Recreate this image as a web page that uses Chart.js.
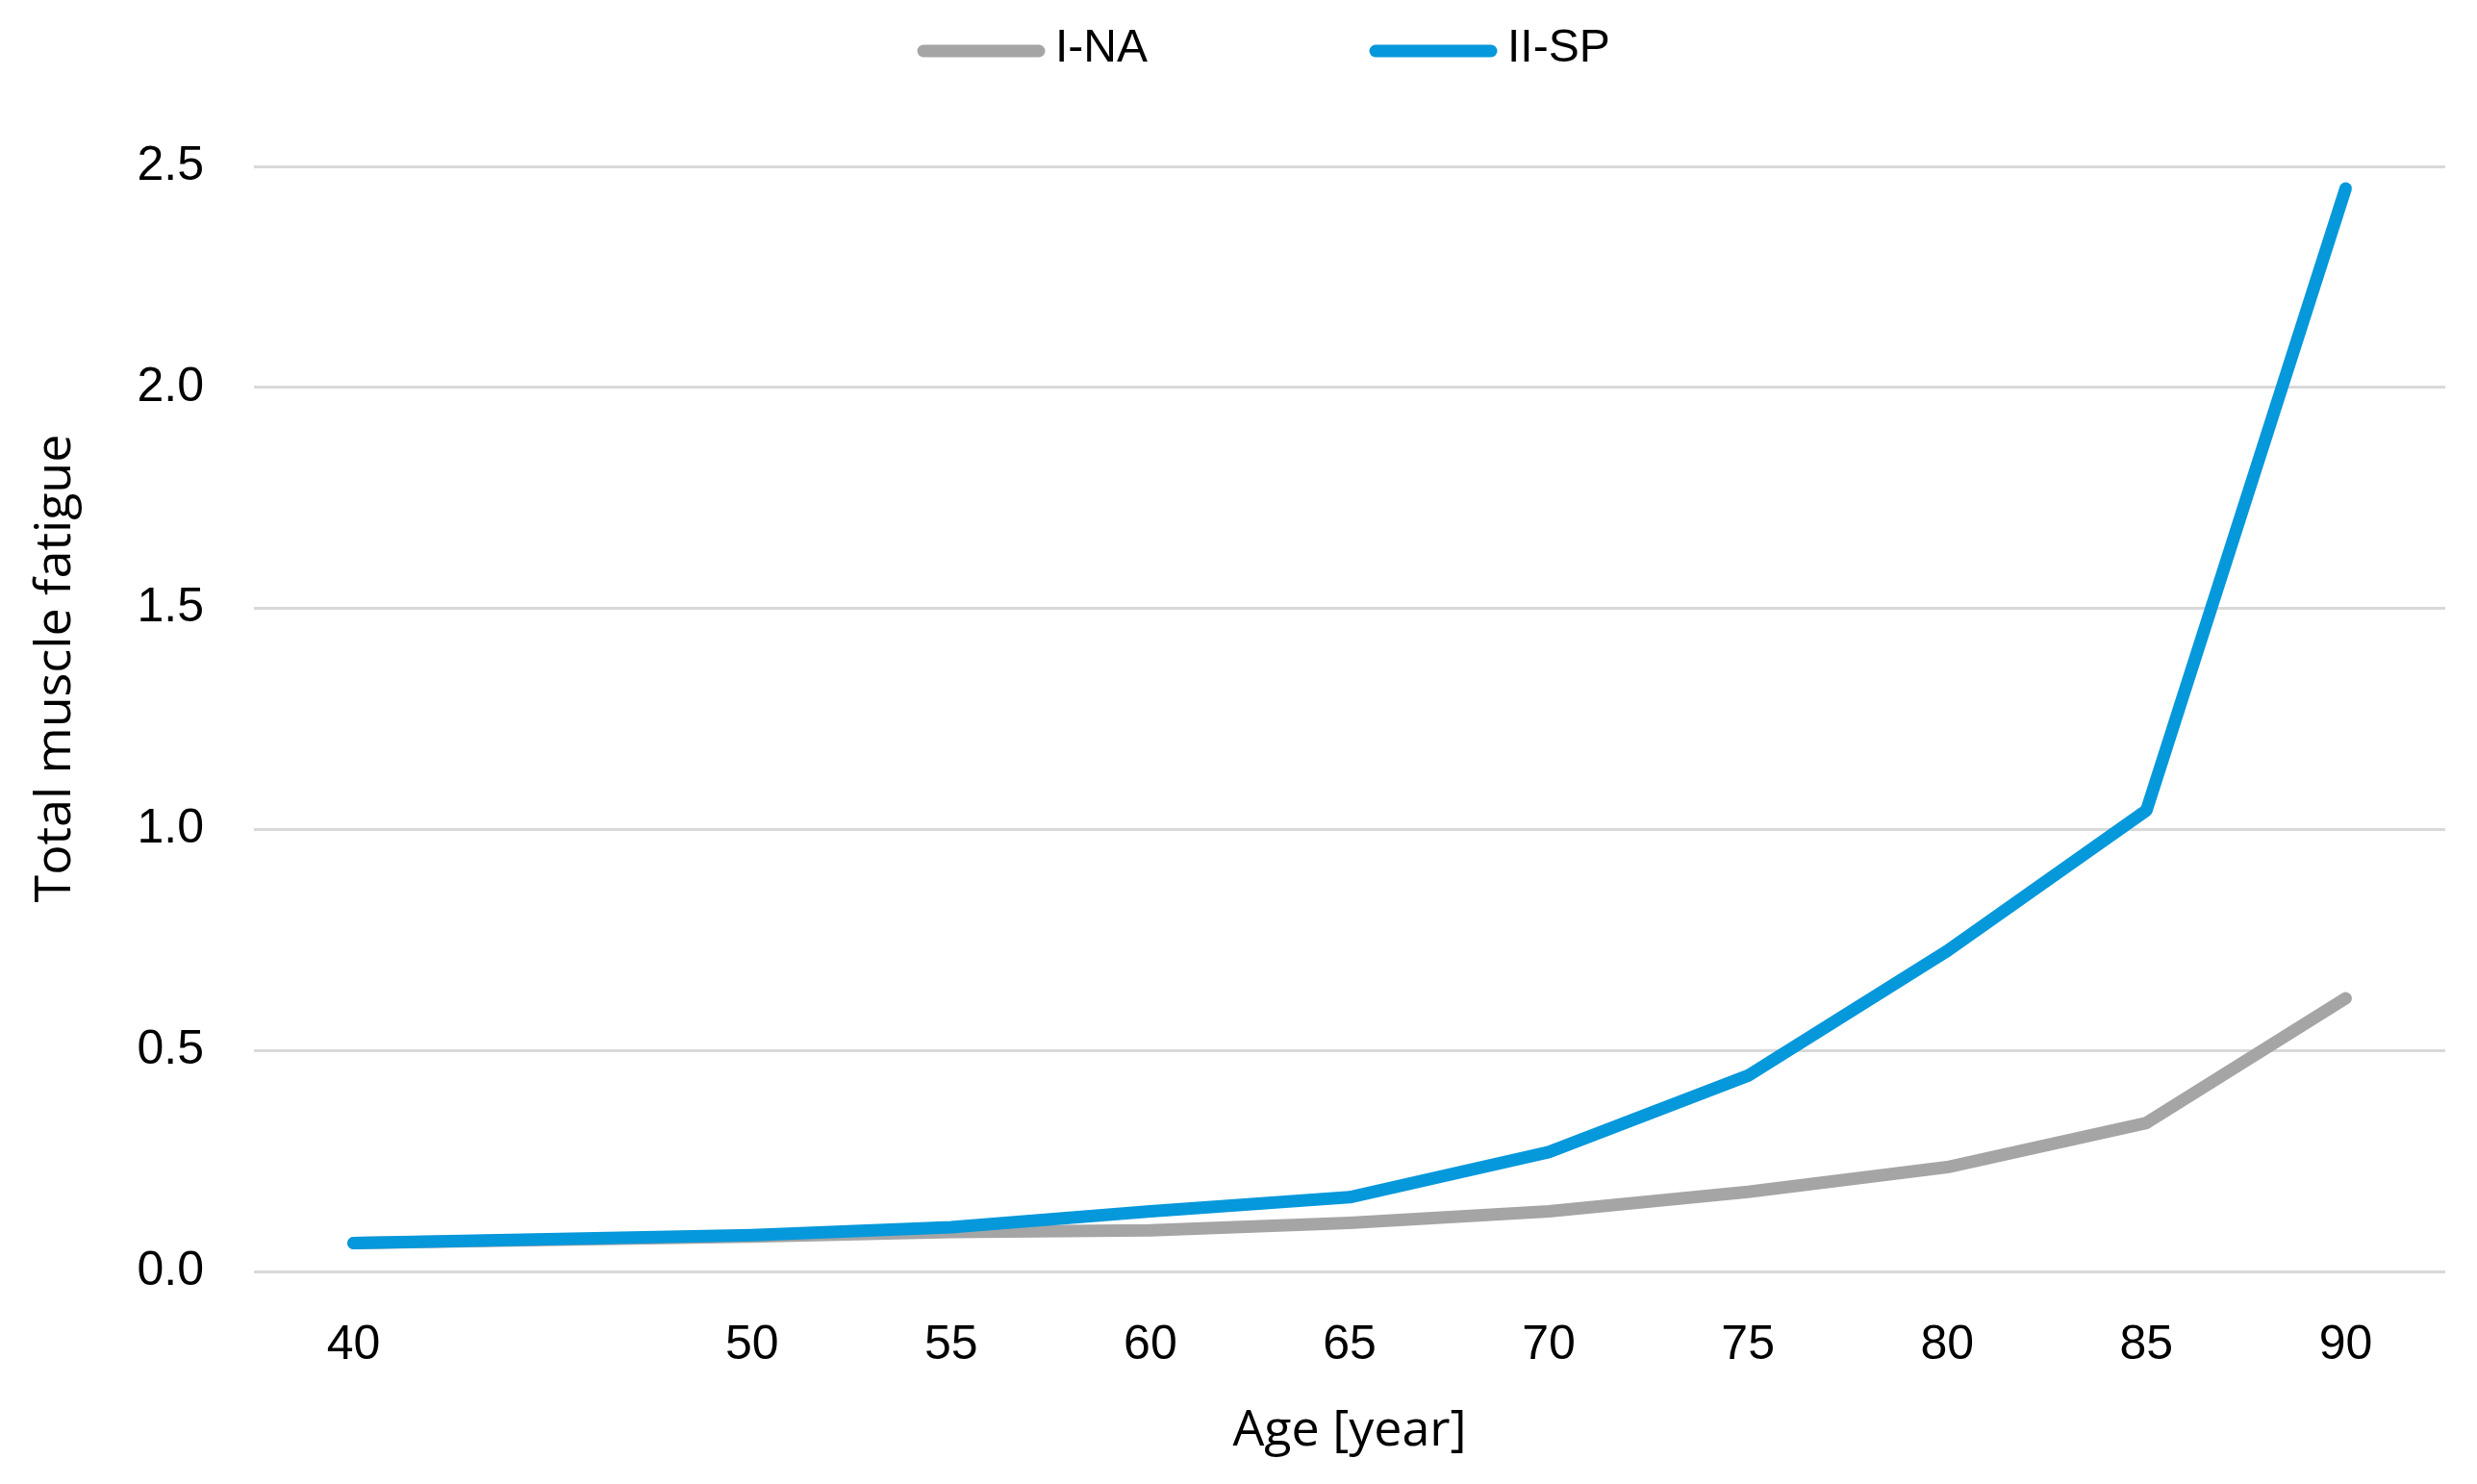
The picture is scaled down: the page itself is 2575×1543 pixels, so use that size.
<!DOCTYPE html>
<html lang="en">
<head>
<meta charset="UTF-8">
<title>Total muscle fatigue</title>
<script src="https://cdn.jsdelivr.net/npm/chart.js"></script>
<style>
    html, body { margin: 0; padding: 0; background: #fff; }
    #wrap { width: 2575px; height: 1543px; }
</style>
</head>
<body>
<div id="wrap"><canvas id="grafico"></canvas></div>
<script>
// data
const edades = [40, 50, 55, 60, 65, 70, 75, 80, 85, 90];
const serieNA = [0.064, 0.079, 0.089, 0.093, 0.110, 0.136, 0.180, 0.236, 0.336, 0.618];
const serieSP = [0.064, 0.082, 0.100, 0.136, 0.168, 0.270, 0.443, 0.725, 1.043, 2.450];
const ticksX = [40, 50, 55, 60, 65, 70, 75, 80, 85, 90];
const ticksY = [0, 0.5, 1.0, 1.5, 2.0, 2.5];
const tituloY = "Total muscle fatigue";

const fuenteTicks = "'Liberation Sans', Arial, sans-serif";
const fuenteTitulo = "'Open Sans', 'Noto Sans', sans-serif";
const gris = "#A5A5A5";
const azul = "#0598DB";

function puntos(valores) {
    return edades.map((x, i) => ({ x: x, y: valores[i] }));
}

// leyenda arriba y título del eje Y (a mano, para colocarlos como en la figura)
const extras = {
    id: "extras",
    afterDraw(chart) {
        const ctx = chart.ctx;
        const inicio = [954, 1424];
        ctx.save();
        chart.data.datasets.forEach((ds, i) => {
            const x = inicio[i];
            ctx.strokeStyle = ds.borderColor;
            ctx.lineWidth = 13;
            ctx.lineCap = "round";
            ctx.beginPath();
            ctx.moveTo(x + 6, 53);
            ctx.lineTo(x + 126, 53);
            ctx.stroke();
            ctx.fillStyle = "#000";
            ctx.font = "48px " + fuenteTicks;
            ctx.textBaseline = "middle";
            ctx.textAlign = "left";
            ctx.fillText(ds.label, x + 143, 51);
        });
        ctx.translate(58, 695);
        ctx.rotate(-Math.PI / 2);
        ctx.font = "52px " + fuenteTitulo;
        ctx.textAlign = "center";
        ctx.textBaseline = "middle";
        ctx.fillText(tituloY, 0, 0);
        ctx.restore();
    }
};

new Chart(document.getElementById("grafico"), {
    type: "line",
    data: {
        datasets: [
            {
                label: "I-NA",
                data: puntos(serieNA),
                borderColor: gris,
                backgroundColor: gris,
                borderWidth: 13,
                borderCapStyle: "round",
                borderJoinStyle: "round",
                pointRadius: 0,
                tension: 0,
                order: 1
            },
            {
                label: "II-SP",
                data: puntos(serieSP),
                borderColor: azul,
                backgroundColor: azul,
                borderWidth: 13,
                borderCapStyle: "round",
                borderJoinStyle: "round",
                pointRadius: 0,
                tension: 0,
                order: 0
            }
        ]
    },
    plugins: [extras],
    options: {
        responsive: true,
        maintainAspectRatio: false,
        animation: false,
        devicePixelRatio: 1,
        layout: { padding: { top: 173, right: 33, bottom: 0, left: 0 } },
        plugins: {
            tooltip: { enabled: false },
            legend: { display: false }
        },
        scales: {
            x: {
                type: "linear",
                min: 37.5,
                max: 92.5,
                afterBuildTicks: s => { s.ticks = ticksX.map(v => ({ value: v })); },
                afterFit: s => { s.height = 221; },
                grid: { display: false },
                border: { display: false },
                ticks: {
                    color: "#000",
                    font: { family: fuenteTicks, size: 50 },
                    padding: 39,
                    maxRotation: 0,
                    autoSkip: false
                },
                title: {
                    display: true,
                    text: "Age [year]",
                    color: "#000",
                    font: { family: fuenteTitulo, size: 52 },
                    padding: { top: 24, bottom: 24 }
                }
            },
            y: {
                min: 0,
                max: 2.5,
                afterBuildTicks: s => { s.ticks = ticksY.map(v => ({ value: v })); },
                afterFit: s => { s.width = 264; },
                grid: { color: "#D9D9D9", lineWidth: 3, drawTicks: false },
                border: { display: false },
                ticks: {
                    color: "#000",
                    font: { family: fuenteTicks, size: 50 },
                    padding: 52,
                    callback: v => v.toFixed(1)
                }
            }
        }
    }
});
</script>
</body>
</html>
